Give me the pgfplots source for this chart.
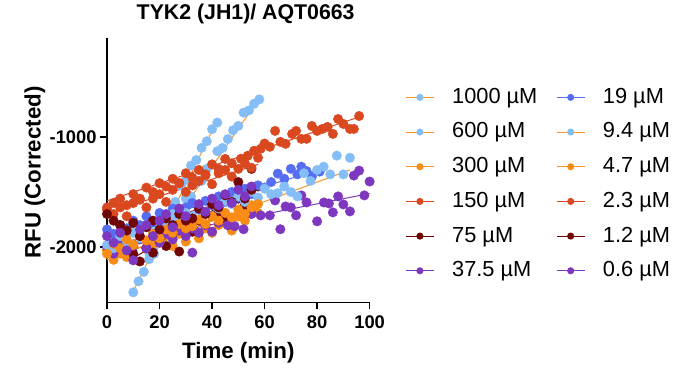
\documentclass[border=0pt]{standalone}
\usepackage{fontspec}
\setmainfont{Liberation Sans}
\usepackage{pgfplots}
\pgfplotsset{compat=1.18}
\definecolor{lblue}{RGB}{133,190,246}
\definecolor{lorange}{RGB}{245,150,45}
\definecolor{dorange}{RGB}{248,140,20}
\definecolor{redo}{RGB}{218,72,32}
\definecolor{maroon}{RGB}{112,6,6}
\definecolor{purp}{RGB}{126,56,192}
\definecolor{blu}{RGB}{86,110,242}
\pgfplotsset{
  dots/.style={only marks, mark=*, mark size=4.8pt, mark options={draw=#1, fill=#1}, forget plot},
  fit/.style={draw=#1, line width=1pt, no marks, forget plot},
  leg/.style n args={2}{draw=#1, line width=1.1pt, mark=*, mark size=3pt, mark options={draw=#2, fill=#2}},
}
\begin{document}
\begin{tikzpicture}
\begin{axis}[
  scale only axis, width=265pt, height=267pt,
  xmin=0, xmax=100, ymin=-2500, ymax=-100,
  axis x line*=bottom, axis y line*=left,
  xtick={0,20,40,60,80,100}, ytick={-2000,-1000},
  tick align=outside, major tick length=7pt,
  tick style={black, line width=1.4pt},
  axis line style={black, line width=1.4pt},
  ticklabel style={font=\fontsize{18.5}{20}\selectfont\bfseries},
  xticklabel style={yshift=-3pt},
  /pgf/number format/assume math mode=true,
  /pgf/number format/1000 sep={},
  xlabel={Time (min)}, ylabel={RFU (Corrected)},
  label style={font=\fontsize{22.5}{24}\selectfont\bfseries},
  xlabel style={at={(axis description cs:0.5,-0.19)}, anchor=center},
  ylabel style={at={(axis description cs:-0.275,0.49)}, anchor=center},
  title={TYK2 (JH1)/ AQT0663},
  title style={font=\fontsize{21.5}{22}\selectfont\bfseries, at={(axis description cs:0.528,1)}, anchor=base, yshift=12pt},
  clip=false,
  legend columns=2,
  legend cell align=left,
  legend style={draw=none, fill=none, at={(axis description cs:1.1245,0.82)}, anchor=north west,
    font=\fontsize{22}{24}\selectfont, row sep=15pt,
    nodes={inner sep=0pt, text height=16pt, text depth=4pt},
    /tikz/every odd column/.append style={column sep=18pt},
    /tikz/every even column/.append style={column sep=19pt}},
  legend image code/.code={
    \draw[mark repeat=2, mark phase=2, #1] plot coordinates {(0pt,0pt) (14pt,0pt) (28pt,0pt)};
  },
]
% ---------- points ----------
% 1000 uM
\addplot[dots=lblue] coordinates {(10,-2410) (12,-2310) (14,-2225) (16,-2050) (18,-1990) (20,-1840) (22,-1800) (24,-1700) (26,-1590) (28,-1440) (30,-1390) (32,-1260) (34,-1210) (36,-1100) (38,-1040) (40,-930) (42,-870)};
% 600 uM
\addplot[dots=lblue] coordinates {(16,-2110) (18,-2060) (20,-1930) (22,-1900) (24,-1790) (26,-1720) (28,-1690) (30,-1560) (32,-1540) (34,-1420) (36,-1400) (38,-1290) (40,-1250) (42,-1130) (44,-1100) (46,-1020) (48,-940) (50,-900) (52,-780) (54,-760) (56,-700) (58,-660)};
% 300 uM
\addplot[dots=dorange] coordinates {(0,-2030) (2.5,-2115) (5,-2060) (7.5,-2090) (10,-1990) (12.5,-1930) (15,-2010) (17.5,-1970) (20,-1960) (22.5,-1900) (25,-1990) (27.5,-1880) (30,-1950) (32.5,-1860) (35,-1920) (37.5,-1830) (40,-1870) (42.5,-1800) (45,-1780) (47.5,-1850) (50,-1720) (52.5,-1760) (55,-1620) (57.5,-1690)};
% 150 uM
\addplot[dots=redo] coordinates {(0,-1640) (2.5,-1600) (5,-1560) (7.5,-1620) (10,-1520) (12.5,-1560) (15,-1460) (17.5,-1500) (20,-1420) (22.5,-1450) (25,-1380) (27.5,-1420) (30,-1330) (32.5,-1370) (35,-1300) (37.5,-1340) (40,-1250) (42.5,-1290) (45,-1200) (47.5,-1240) (51,-1198) (53.6,-1171) (56,-1126) (58.5,-1108) (60,-1060) (62,-1090) (64,-946) (66,-1045) (68,-1063) (70.5,-973) (72,-946) (74,-1018) (76,-1018) (78,-901) (80,-946) (82,-928) (84,-910) (86,-973) (88,-838) (90,-883) (92.5,-928) (94,-928) (96,-811)};
% 75 uM
\addplot[dots=maroon] coordinates {(10,-2060) (12.5,-2130) (15,-2010) (17.5,-2050) (20,-1930) (22.5,-1990) (25,-1880) (27.5,-2040) (30,-1820) (32.5,-1860) (35,-1760) (37.5,-1800) (40,-1720) (42.5,-1680) (45,-1740) (47.5,-1600) (50,-1560) (52.5,-1620) (55,-1290) (57.5,-1450)};
% 37.5 uM
\addplot[dots=purp] coordinates {(0,-2000) (2.5,-2060) (5,-1950) (7.5,-2020) (10,-1990) (12.5,-1930) (15,-2010) (17.5,-1900) (20,-1960) (22.5,-1880) (25,-1930) (27.5,-1850) (30,-1900) (32.5,-1830) (35,-1870) (37.5,-1800) (40,-1860) (42.5,-1780) (46,-1802) (48.6,-1811) (52,-1838) (55,-1700) (58.5,-1712) (62,-1712) (64,-1577) (66,-1838) (68,-1631) (70,-1640) (72,-1712) (74,-1531) (76,-1595) (80,-1766) (82.6,-1595) (84.5,-1604) (86,-1685) (88,-1540) (90,-1613) (92.5,-1676) (94,-1351) (96,-1306) (98,-1531) (100,-1405)};
% 19 uM
\addplot[dots=blu] coordinates {(0,-1840) (2.5,-1880) (5,-1800) (7.5,-1830) (10,-1760) (12.5,-1800) (15,-1720) (17.5,-1780) (20,-1690) (22.5,-1730) (25,-1650) (27.5,-1700) (30,-1640) (32.5,-1600) (35,-1660) (37.5,-1580) (40,-1620) (42.5,-1540) (45,-1590) (47.5,-1500) (50,-1550) (52.5,-1470) (55,-1520) (57.5,-1440) (60,-1460) (62.5,-1410) (65,-1333) (67.5,-1380) (70,-1290) (72.5,-1340) (74,-1270) (76,-1310) (78,-1360) (81,-1315)};
% 9.4 uM
\addplot[dots=lblue] coordinates {(0,-1980) (2.5,-2010) (5,-1900) (7.5,-1950) (10,-1870) (12.5,-1920) (15,-1800) (17.5,-1860) (20,-1780) (22.5,-1820) (25,-1700) (27.5,-1760) (30,-1690) (32.5,-1720) (35,-1640) (37.5,-1680) (40,-1600) (42.5,-1650) (45,-1580) (47.5,-1610) (50,-1540) (52.5,-1590) (55,-1500) (57.5,-1550) (60,-1470) (62.5,-1520) (65,-1510) (67.5,-1450) (70,-1500) (72.5,-1540) (75,-1330) (77.5,-1400) (80,-1300) (82.5,-1270) (85,-1340) (87.5,-1170) (90,-1340) (92.5,-1190)};
% 4.7 uM
\addplot[dots=dorange] coordinates {(0,-2060) (2.5,-1970) (5,-2010) (7.5,-1930) (10,-1980) (12.5,-1900) (15,-1940) (17.5,-1880) (20,-1920) (22.5,-1840) (25,-1870) (27.5,-1790) (30,-1830) (32.5,-1810) (35,-1750) (37.5,-1790) (40,-1720) (42.5,-1760) (45,-1690) (47.5,-1730) (50,-1660) (52.5,-1700) (55,-1640) (57.5,-1610)};
% 2.3 uM
\addplot[dots=redo] coordinates {(0,-1660) (2.5,-1700) (5,-1640) (7.5,-1720) (10,-1600) (12.5,-1570) (15,-1640) (17.5,-1560) (20,-1520) (22.5,-1590) (25,-1480) (27.5,-1420) (30,-1500) (32.5,-1440) (35,-1400) (37.5,-1350) (40,-1430) (42.5,-1330) (45,-1300) (47.5,-1360) (50,-1290) (52.5,-1240) (55,-1280) (57.5,-1190)};
% 1.2 uM
\addplot[dots=maroon] coordinates {(0,-1700) (2.5,-1760) (5,-1800) (7.5,-1850) (10,-1780) (12.5,-1900) (15,-1820) (17.5,-1760) (20,-1840) (22.5,-1740) (25,-1800) (27.5,-1700) (30,-1760) (32.5,-1740) (35,-1650) (37.5,-1700) (40,-1610) (42.5,-1640) (45,-1530) (47.5,-1590) (50,-1410) (52.5,-1560) (55,-1480)};
% 0.6 uM
\addplot[dots=purp] coordinates {(0,-1900) (2.5,-1960) (5,-1870) (7.5,-2030) (10,-2120) (12.5,-1840) (15,-1800) (17.5,-1900) (20,-1760) (22.5,-1700) (25,-1820) (27.5,-1650) (30,-1720) (32.5,-2050) (35,-1610) (37.5,-1680) (40,-1560) (42.5,-1620) (45,-1520) (47.5,-1600) (50,-1480) (52.5,-1540) (55,-1450)};
% ---------- fitted lines ----------
\addplot[fit=lorange] coordinates {(10,-2400) (42,-850)};
\addplot[fit=lorange] coordinates {(16,-2100) (58,-650)};
\addplot[fit=lorange] coordinates {(0,-2080) (57.5,-1712)};
\addplot[fit=redo] coordinates {(0,-1580) (96,-820)};
\addplot[fit=maroon] coordinates {(10,-2100) (57.5,-1420)};
\addplot[fit=purp] coordinates {(0,-1982) (100,-1514)};
\addplot[fit=blu] coordinates {(0,-1870) (81,-1300)};
\addplot[fit=lorange] coordinates {(0,-2116) (92.5,-1300)};
\addplot[fit=lorange] coordinates {(0,-2000) (57.5,-1644)};
\addplot[fit=redo] coordinates {(0,-1690) (57.5,-1250)};
\addplot[fit=maroon] coordinates {(0,-1880) (55,-1530)};
\addplot[fit=purp] coordinates {(0,-1950) (55,-1530)};
% ---------- legend ----------
\addlegendimage{leg={lorange}{lblue}}   \addlegendentry{1000 µM}
\addlegendimage{leg={blu}{blu}}         \addlegendentry{19 µM}
\addlegendimage{leg={lorange}{lblue}}   \addlegendentry{600 µM}
\addlegendimage{leg={lorange}{lblue}}   \addlegendentry{9.4 µM}
\addlegendimage{leg={lorange}{dorange}} \addlegendentry{300 µM}
\addlegendimage{leg={lorange}{dorange}} \addlegendentry{4.7 µM}
\addlegendimage{leg={redo}{redo}}       \addlegendentry{150 µM}
\addlegendimage{leg={redo}{redo}}       \addlegendentry{2.3 µM}
\addlegendimage{leg={maroon}{maroon}}   \addlegendentry{75 µM}
\addlegendimage{leg={maroon}{maroon}}   \addlegendentry{1.2 µM}
\addlegendimage{leg={purp}{purp}}       \addlegendentry{37.5 µM}
\addlegendimage{leg={purp}{purp}}       \addlegendentry{0.6 µM}
\end{axis}
\path (current axis.south west) ++(-108pt,-66pt) rectangle ++(673pt,371pt);
\end{tikzpicture}
\end{document}
